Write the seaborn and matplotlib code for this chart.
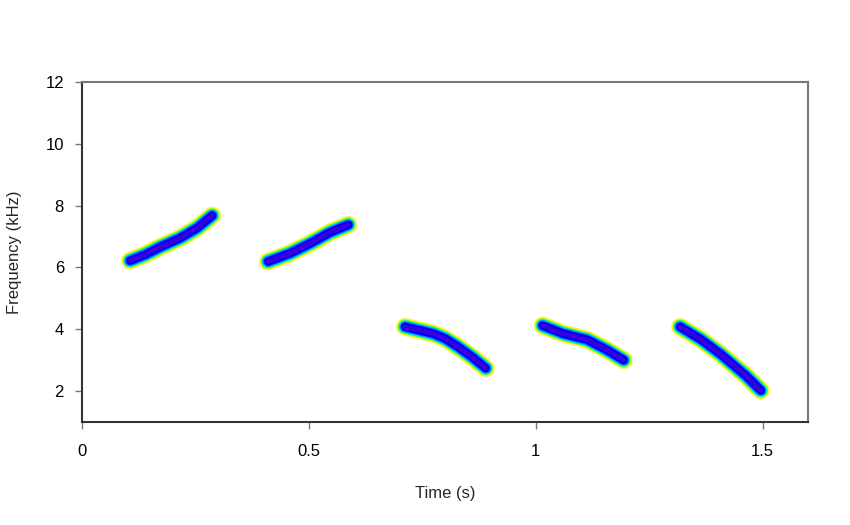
import numpy as np
import pandas as pd
import matplotlib
matplotlib.use("Agg")
import matplotlib.pyplot as plt
import seaborn as sns

# traced contours of the five syllables (time in s, frequency in kHz)
syl1_t = [0.106, 0.14, 0.172, 0.216, 0.254, 0.287]
syl1_f = [6.22, 6.42, 6.66, 6.95, 7.28, 7.68]
syl2_t = [0.410, 0.459, 0.503, 0.547, 0.587]
syl2_f = [6.19, 6.46, 6.78, 7.14, 7.38]
syl3_t = [0.712, 0.774, 0.80, 0.827, 0.86, 0.89]
syl3_f = [4.08, 3.86, 3.70, 3.45, 3.10, 2.74]
syl4_t = [1.015, 1.06, 1.114, 1.158, 1.194]
syl4_f = [4.12, 3.86, 3.66, 3.32, 3.00]
syl5_t = [1.318, 1.363, 1.407, 1.463, 1.496]
syl5_f = [4.08, 3.68, 3.20, 2.50, 2.02]

syllables = [(syl1_t, syl1_f), (syl2_t, syl2_f), (syl3_t, syl3_f),
             (syl4_t, syl4_f), (syl5_t, syl5_f)]

# amplitude bands: outer (weak) to inner (strong)
band_colors = ["#FFE98A", "#FFFF00", "#80FF00", "#00E8D8", "#0090FF", "#0000FF", "#3A00DC"]
band_widths = [13.0, 11.8, 10.6, 9.4, 8.0, 6.4, 3.0]

sns.set_style("white")
plt.rcParams['font.family'] = ['Liberation Sans', 'DejaVu Sans']

fig, ax = plt.subplots(figsize=(8.5, 5.25), dpi=100)
fig.subplots_adjust(left=82/850, right=808/850, top=1-82/525, bottom=1-422/525)

for i, (t, f) in enumerate(syllables):
    df = pd.DataFrame({"t": t, "f": f})
    for c, w in zip(band_colors, band_widths):
        sns.lineplot(data=df, x="t", y="f", ax=ax, color=c, linewidth=w,
                     sort=False, solid_capstyle="round", solid_joinstyle="round")

ax.set_xlim(0, 1.6)
ax.set_ylim(1, 12)
ax.set_xticks([0, 0.5, 1, 1.5])
ax.set_xticklabels(["0", "0.5", "1", "1.5"])
ax.set_yticks([2, 4, 6, 8, 10, 12])
ax.tick_params(axis="both", bottom=True, left=True, direction="out", length=5,
               width=1, color="#777777", labelsize=12, labelcolor="black")
ax.tick_params(axis="x", pad=11)
ax.tick_params(axis="y", pad=8)
for s in ["top", "right"]:
    ax.spines[s].set_color("#777777")
    ax.spines[s].set_linewidth(1.5)
for s in ["left", "bottom"]:
    ax.spines[s].set_color("#333333")
    ax.spines[s].set_linewidth(1.5)

ax.set_xlabel("Time (s)", fontsize=12, labelpad=19)
ax.set_ylabel("Frequency (kHz)", fontsize=12, labelpad=17)

fig.savefig("out.png", dpi=100)
